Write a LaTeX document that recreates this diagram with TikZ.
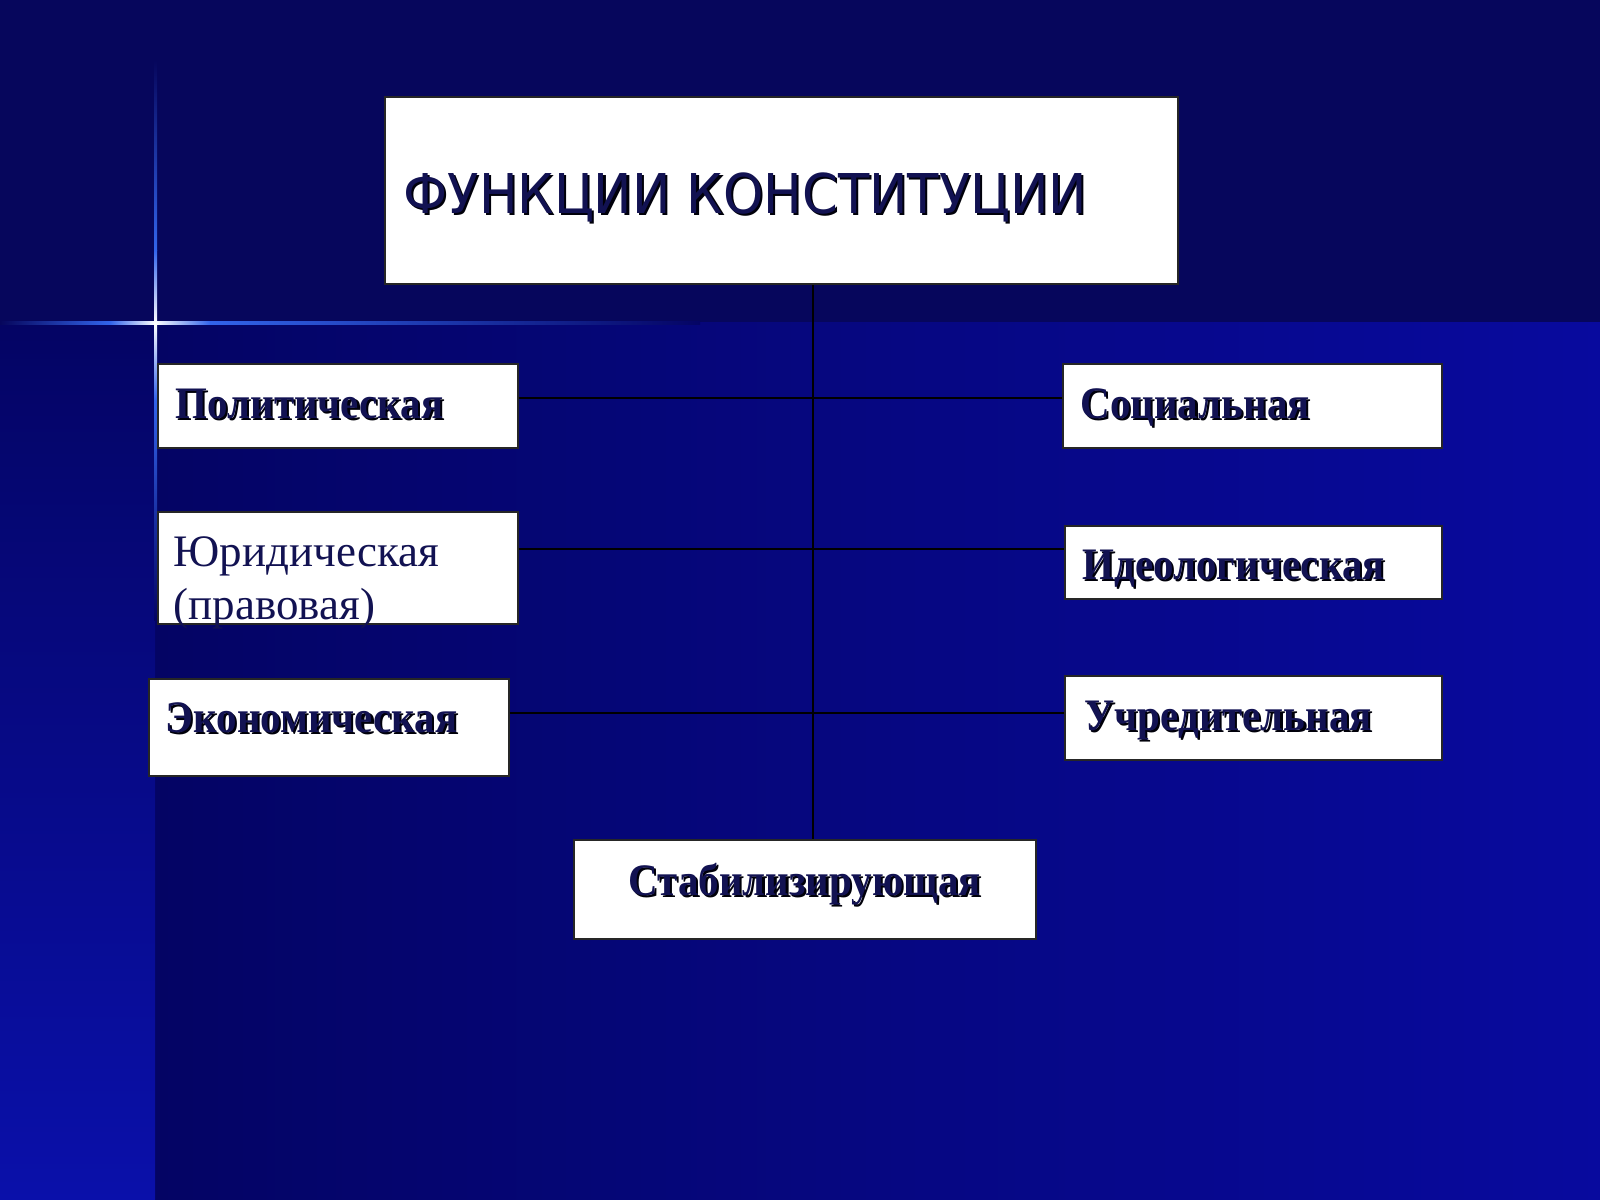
\documentclass[tikz,border=0pt]{standalone}
\usepackage{fontspec}
\setmainfont{Liberation Serif}
\newfontfamily\titlefont{DejaVu Sans}[FakeStretch=0.935]
\newfontfamily\lblfont{Liberation Serif}[FakeStretch=0.91]
\usepackage{tikz}
\usetikzlibrary{calc}

\definecolor{bgtop}{RGB}{6,6,92}
\definecolor{bglowl}{RGB}{4,4,100}
\definecolor{bglowr}{RGB}{8,10,158}
\definecolor{stripbot}{RGB}{10,16,170}
\definecolor{flareblue}{RGB}{50,100,235}
\definecolor{textnavy}{RGB}{18,18,82}
\definecolor{shadowc}{RGB}{0,0,10}
\newcommand\shadowed[1]{\makebox[0pt][l]{\kern0.6pt\raisebox{-0.6pt}{\textcolor{shadowc}{#1}}}#1}

\tikzset{
	box/.style={draw=black!85, line width=0.15mm, fill=white, inner sep=0pt},
	lbl/.style={anchor=base west, inner sep=0pt, text=textnavy, font=\fontsize{12.8pt}{15.1pt}\selectfont},
	bold lbl/.style={lbl, font=\lblfont\bfseries\fontsize{12.8pt}{15.1pt}\selectfont},
	link/.style={line width=0.2mm, color=black}
}

\begin{document}
\begin{tikzpicture}[x=0.01cm, y=-0.01cm]
			%%%%% START %%%%%
			\useasboundingbox (0, 0) rectangle (1600, 1200);
			
			\fill[bgtop] (0, 0) rectangle (1600, 322);
			\shade[left color=bglowl, right color=bglowr] (155, 322) rectangle (1600, 1200);
			\shade[top color=bglowl, bottom color=stripbot] (0, 322) rectangle (155, 1200);
			
			% flare
			\shade[left color=bgtop, right color=flareblue] (0, 321.5) rectangle (110, 324.5);
			\shade[left color=flareblue, right color=white] (110, 321.5) rectangle (155, 324.5);
			\shade[left color=white, right color=flareblue] (155, 321.5) rectangle (210, 324.5);
			\shade[left color=flareblue, right color=bglowl] (210, 321.5) rectangle (700, 324.5);
			\shade[top color=bgtop, bottom color=flareblue] (154, 60) rectangle (157, 250);
			\shade[top color=flareblue, bottom color=white] (154, 250) rectangle (157, 323);
			\shade[top color=white, bottom color=flareblue] (154, 323) rectangle (157, 400);
			\shade[top color=flareblue, bottom color=bglowl] (154, 400) rectangle (157, 620);
			
			% boxes
			\node[box, minimum width=7.93cm, minimum height=1.87cm] (title) at (781.5, 190.5) {};
			\node[box, minimum width=3.6cm, minimum height=0.84cm] (pol) at (338, 406) {};
			\node[box, minimum width=3.6cm, minimum height=1.12cm] (jur) at (338, 568) {};
			\node[box, minimum width=3.6cm, minimum height=0.97cm] (eco) at (329, 727.5) {};
			\node[box, minimum width=3.79cm, minimum height=0.84cm] (soc) at (1252.5, 406) {};
			\node[box, minimum width=3.77cm, minimum height=0.73cm] (ideo) at (1253.5, 562.5) {};
			\node[box, minimum width=3.77cm, minimum height=0.84cm] (found) at (1253.5, 718) {};
			\node[box, minimum width=4.62cm, minimum height=0.99cm] (stab) at (805, 889.5) {};
			
			% connectors
			\coordinate (stem) at (813, 0);
			\coordinate (rowa) at (0, 398);
			\coordinate (rowb) at (0, 549);
			\coordinate (rowc) at (0, 713);
			\draw[link] (title.south -| stem) -- (stab.north -| stem);
			\draw[link] (pol.east |- rowa) -- (soc.west |- rowa);
			\draw[link] (jur.east |- rowb) -- (ideo.west |- rowb);
			\draw[link] (eco.east |- rowc) -- (found.west |- rowc);
			
			% labels
			\node[lbl, font=\titlefont\fontsize{15.6pt}{18pt}\selectfont] (title-t) at (403, 213) {\shadowed{ФУНКЦИИ КОНСТИТУЦИИ}};
			\node[bold lbl] (pol-t) at (175, 418) {\shadowed{Политическая}};
			\node[lbl, anchor=north west, align=left] (jur-t) at (173, 536) {Юридическая\\(правовая)};
			\node[bold lbl] (eco-t) at (165, 732) {\shadowed{Экономическая}};
			\node[bold lbl] (soc-t) at (1080, 418) {\shadowed{Социальная}};
			\node[bold lbl] (ideo-t) at (1082, 579) {\shadowed{Идеологическая}};
			\node[bold lbl] (found-t) at (1084, 730) {\shadowed{Учредительная}};
			\node[bold lbl] (stab-t) at (628, 895) {\shadowed{Стабилизирующая}};
			%%%%% END %%%%%
\end{tikzpicture}
\end{document}
